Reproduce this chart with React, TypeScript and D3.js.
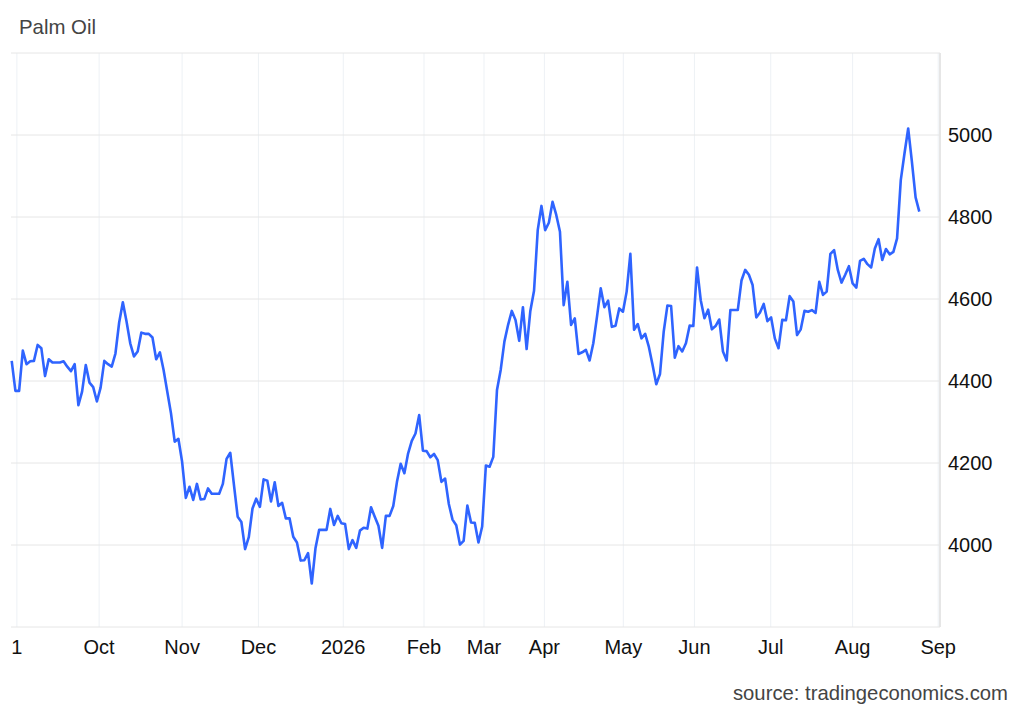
import * as d3 from "d3";
import React from "react";

// daily closes
const prices = [
  4449, 4376, 4376, 4474, 4441, 4448, 4449, 4488, 4480, 4412,
  4453, 4445, 4445, 4445, 4448, 4435, 4424, 4441, 4341, 4374,
  4439, 4396, 4385, 4350, 4384, 4449, 4441, 4435, 4467, 4542,
  4592, 4545, 4492, 4460, 4472, 4518, 4515, 4515, 4506, 4453,
  4470, 4427, 4374, 4321, 4252, 4259, 4203, 4115, 4142, 4110,
  4149, 4111, 4112, 4138, 4125, 4125, 4125, 4149, 4210, 4225,
  4146, 4069, 4056, 3990, 4019, 4089, 4113, 4093, 4160, 4157,
  4106, 4153, 4095, 4103, 4065, 4065, 4020, 4006, 3962, 3963,
  3980, 3906, 3992, 4037, 4037, 4037, 4088, 4049, 4071, 4053,
  4051, 3990, 4012, 3993, 4035, 4042, 4040, 4092, 4069, 4047,
  3993, 4071, 4071, 4095, 4154, 4198, 4175, 4223, 4254, 4272,
  4317, 4230, 4229, 4214, 4222, 4207, 4154, 4162, 4100, 4062,
  4048, 4001, 4010, 4096, 4055, 4054, 4006, 4045, 4194, 4191,
  4215, 4378, 4427, 4496, 4537, 4571, 4549, 4498, 4580, 4478,
  4571, 4620, 4768, 4827, 4768, 4786, 4837, 4805, 4764, 4585,
  4642, 4537, 4553, 4466, 4470, 4476, 4450, 4492, 4557, 4626,
  4580, 4596, 4532, 4535, 4577, 4569, 4618, 4710, 4525, 4539,
  4504, 4515, 4483, 4439, 4392, 4417, 4520, 4584, 4583, 4457,
  4485, 4472, 4492, 4535, 4534, 4677, 4597, 4553, 4574, 4526,
  4534, 4550, 4472, 4450, 4573, 4573, 4573, 4645, 4671, 4659,
  4634, 4555, 4567, 4588, 4546, 4555, 4504, 4480, 4549, 4548,
  4607, 4594, 4512, 4526, 4571, 4569, 4573, 4566, 4642, 4610,
  4618, 4710, 4719, 4671, 4640, 4659, 4680, 4638, 4628, 4693,
  4698, 4685, 4677, 4723, 4746, 4695, 4722, 4709, 4715, 4748,
  4890, 4955, 5016, 4935, 4848, 4813,
];

// month boundaries, as positions on the trading-day index
const monthLabels = ["1", "Oct", "Nov", "Dec", "2026", "Feb", "Mar", "Apr", "May", "Jun", "Jul", "Aug", "Sep"];
const monthIdx = [1.4, 23.6, 46, 66.6, 89.5, 111.3, 127.5, 143.8, 165.1, 184.3, 204.9, 227, 250.1];

const gridValues = [3800, 4000, 4200, 4400, 4600, 4800, 5000, 5200];
const labelValues = [4000, 4200, 4400, 4600, 4800, 5000];

const W = 1024;
const H = 710;
const font = "'Liberation Sans', Arial, sans-serif";

export default function App() {
  const x = d3.scaleLinear().domain([0, prices.length - 1]).range([11.7, 919.3]);
  const y = d3.scaleLinear().domain([3800, 5200]).range([627, 53]);
  const left = 11;
  const right = 940;

  const line = d3
    .line<number>()
    .x((_, i) => x(i))
    .y((d) => y(d));

  return (
    <svg
      width={W}
      height={H}
      style={{ position: "absolute", left: 0, top: 0, background: "#fff" }}
    >
      <text x={19} y={34} fontFamily={font} fontSize={20.4} fill="#444">
        Palm Oil
      </text>

      {monthIdx.map((m, i) => (
        <line
          key={"v" + i}
          x1={x(m)}
          x2={x(m)}
          y1={y(5200)}
          y2={y(3800)}
          stroke="#edf1f5"
          strokeWidth={1}
        />
      ))}

      {gridValues.map((v) => (
        <line
          key={"h" + v}
          x1={left}
          x2={right}
          y1={y(v)}
          y2={y(v)}
          stroke="#e6e6e6"
          strokeWidth={1}
        />
      ))}

      <line x1={right} x2={right} y1={y(5200)} y2={y(3800)} stroke="#e6e6e6" strokeWidth={2} />

      <path d={line(prices) ?? ""} fill="none" stroke="#2f64ff" strokeWidth={2.6} strokeLinejoin="round" />

      {labelValues.map((v) => (
        <text
          key={"yl" + v}
          x={948}
          y={y(v) + 7}
          fontFamily={font}
          fontSize={20}
          fill="#111"
        >
          {v}
        </text>
      ))}

      {monthLabels.map((t, i) => (
        <text
          key={"xl" + i}
          x={x(monthIdx[i])}
          y={654}
          textAnchor="middle"
          fontFamily={font}
          fontSize={20}
          fill="#111"
        >
          {t}
        </text>
      ))}

      <text x={1008} y={700} textAnchor="end" fontFamily={font} fontSize={20.3} fill="#444">
        source: tradingeconomics.com
      </text>
    </svg>
  );
}
